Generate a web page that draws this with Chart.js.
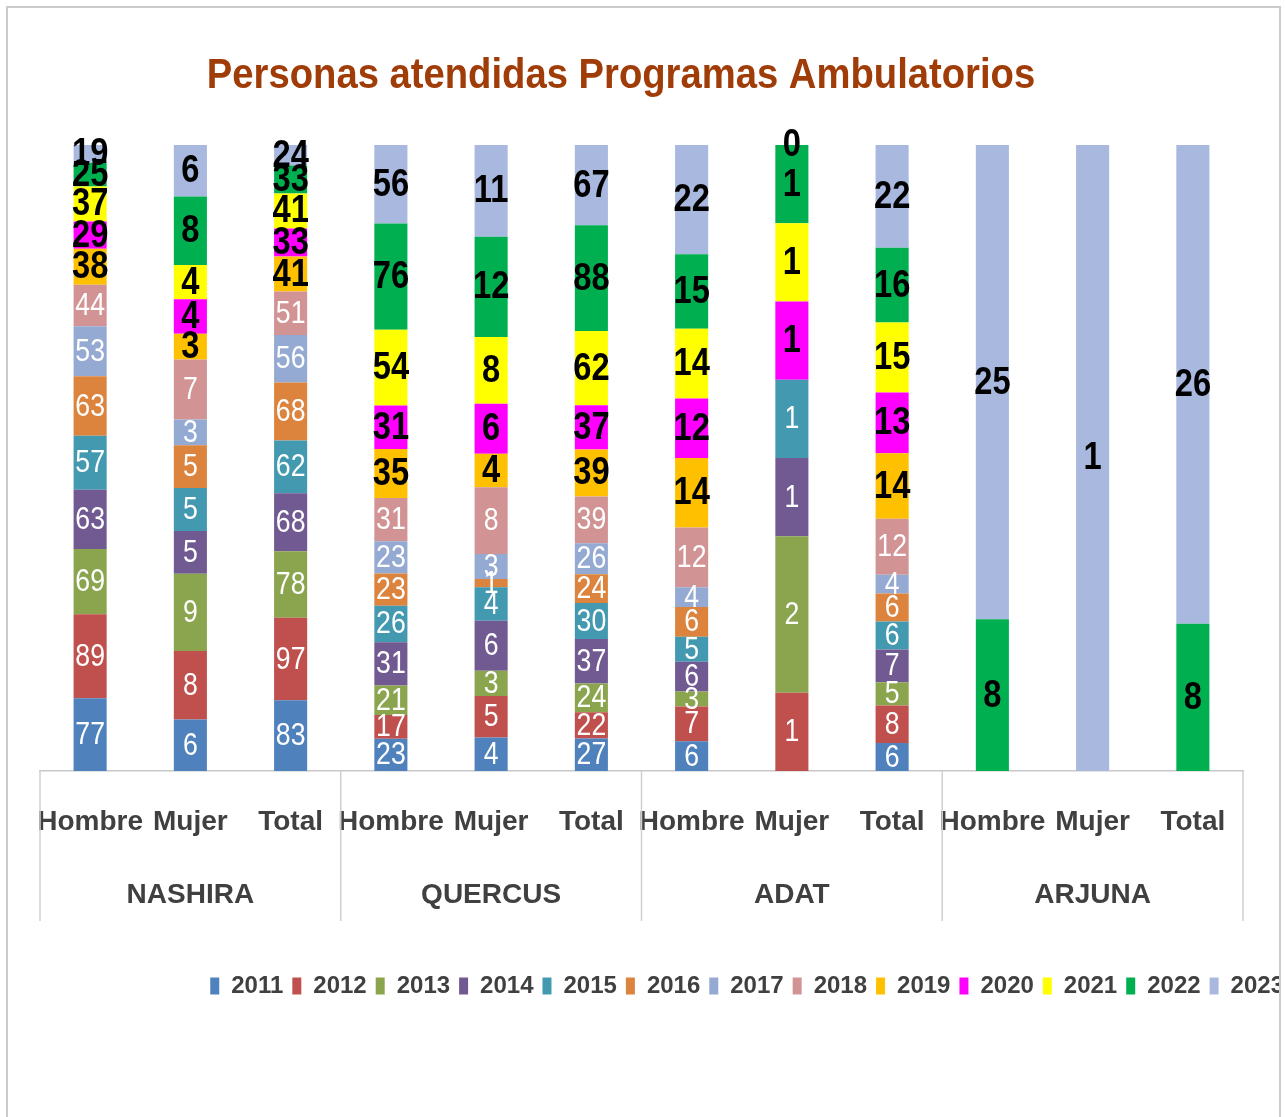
<!DOCTYPE html>
<html lang="es">
<head>
    <meta charset="UTF-8">
    <title>Personas atendidas Programas Ambulatorios</title>
    <script src="https://cdn.jsdelivr.net/npm/chart.js@4.4.1/dist/chart.umd.min.js"></script>
    <style>
        html, body { margin: 0; padding: 0; background: #fff; overflow: hidden; }
        #frame {
            position: absolute; left: 6px; top: 6px;
            width: 1271px; height: 1200px;
            border: 2px solid #cbcbcb; overflow: hidden; background: #fff;
        }
        #chart { position: absolute; left: -8px; top: -8px; }
    </style>
</head>
<body>
    <div id="frame">
        <canvas id="chart" width="1320" height="1117" style="width:1320px;height:1117px;"></canvas>
    </div>

    <script>
        // data
        const title = 'Personas atendidas Programas Ambulatorios';
        const groups = ['NASHIRA', 'QUERCUS', 'ADAT', 'ARJUNA'];
        const subs = ['Hombre', 'Mujer', 'Total'];
        const years = ['2011', '2012', '2013', '2014', '2015', '2016', '2017', '2018', '2019', '2020', '2021', '2022', '2023'];

        // one array per year, bars: NASHIRA H/M/T, QUERCUS H/M/T, ADAT H/M/T, ARJUNA H/M/T
        const v2011 = [77, 6, 83, 23, 4, 27, 6, null, 6, null, null, null];
        const v2012 = [89, 8, 97, 17, 5, 22, 7, 1, 8, null, null, null];
        const v2013 = [69, 9, 78, 21, 3, 24, 3, 2, 5, null, null, null];
        const v2014 = [63, 5, 68, 31, 6, 37, 6, 1, 7, null, null, null];
        const v2015 = [57, 5, 62, 26, 4, 30, 5, 1, 6, null, null, null];
        const v2016 = [63, 5, 68, 23, 1, 24, 6, null, 6, null, null, null];
        const v2017 = [53, 3, 56, 23, 3, 26, 4, null, 4, null, null, null];
        const v2018 = [44, 7, 51, 31, 8, 39, 12, null, 12, null, null, null];
        const v2019 = [38, 3, 41, 35, 4, 39, 14, null, 14, null, null, null];
        const v2020 = [29, 4, 33, 31, 6, 37, 12, 1, 13, null, null, null];
        const v2021 = [37, 4, 41, 54, 8, 62, 14, 1, 15, null, null, null];
        const v2022 = [25, 8, 33, 76, 12, 88, 15, 1, 16, 8, null, 8];
        const v2023 = [19, 6, 24, 56, 11, 67, 22, 0, 22, 25, 1, 26];

        const values = [v2011, v2012, v2013, v2014, v2015, v2016, v2017, v2018, v2019, v2020, v2021, v2022, v2023];
        const colors = ['#4f81bd', '#c0504d', '#8ba54f', '#715a91', '#4399b0', '#dc843e', '#95aad3',
                        '#d29394', '#ffc000', '#ff00ff', '#ffff00', '#00b050', '#a8b8de'];

        // two-line tick labels: sub category, then group name under the middle bar
        const labels = [];
        groups.forEach(g => subs.forEach((s, j) => labels.push([s, j === 1 ? g : ''])));

        // 100% stacked: every bar is turned into shares of its own total
        const totals = labels.map((_, i) => values.reduce((sum, arr) => sum + (arr[i] || 0), 0));

        const datasets = years.map((y, d) => ({
            label: y,
            data: values[d].map((v, i) => v === null ? null : v / totals[i] * 100),
            backgroundColor: colors[d],
            borderWidth: 0,
            barPercentage: 0.33,
            categoryPercentage: 1
        }));

        const valueLabels = {
            id: 'valueLabels',
            afterDatasetsDraw(chart) {
                const ctx = chart.ctx;
                ctx.save();
                ctx.textAlign = 'center';
                ctx.textBaseline = 'middle';
                chart.data.datasets.forEach((ds, d) => {
                    const meta = chart.getDatasetMeta(d);
                    const dark = d >= 8;
                    ctx.fillStyle = dark ? '#000' : '#fff';
                    ctx.font = dark ? 'bold 38px "Liberation Sans", Arial, sans-serif'
                                    : '31px "Liberation Sans", Arial, sans-serif';
                    meta.data.forEach((bar, i) => {
                        const v = values[d][i];
                        if (v === null) return;
                        ctx.save();
                        ctx.translate(bar.x, (bar.y + bar.base) / 2);
                        ctx.scale(0.86, 1);
                        ctx.fillText(String(v), 0, 1);
                        ctx.restore();
                    });
                });
                ctx.restore();
            }
        };

        const extras = {
            id: 'extras',
            afterDraw(chart) {
                const ctx = chart.ctx;
                const xs = chart.scales.x;
                const half = (xs.getPixelForValue(1) - xs.getPixelForValue(0)) / 2;
                const bottom = chart.chartArea.bottom;

                // group separators under the axis
                ctx.save();
                ctx.strokeStyle = '#d0d0d0';
                ctx.lineWidth = 1.5;
                for (let k = 0; k <= groups.length; k++) {
                    const x = k < groups.length ? xs.getPixelForValue(k * 3) - half
                                                : xs.getPixelForValue(labels.length - 1) + half;
                    ctx.beginPath();
                    ctx.moveTo(x, bottom);
                    ctx.lineTo(x, bottom + 150);
                    ctx.stroke();
                }
                ctx.restore();

                // title, a little narrower like the original
                ctx.save();
                ctx.fillStyle = '#a03c08';
                ctx.font = 'bold 42px "Liberation Sans", Arial, sans-serif';
                ctx.textAlign = 'center';
                ctx.textBaseline = 'middle';
                ctx.translate(621, 76);
                ctx.scale(0.91, 1);
                ctx.fillText(title, 0, 0);
                ctx.restore();
            }
        };

        new Chart(document.getElementById('chart'), {
            type: 'bar',
            data: { labels: labels, datasets: datasets },
            options: {
                responsive: false,
                animation: false,
                layout: { padding: { top: 145, left: 40, right: 27, bottom: 109 } },
                plugins: {
                    title: { display: false },
                    tooltip: { enabled: false },
                    legend: {
                        position: 'bottom',
                        align: 'end',
                        labels: {
                            boxWidth: 9,
                            boxHeight: 17,
                            padding: 9,
                            color: '#404040',
                            font: { family: '"Liberation Sans", Arial, sans-serif', size: 24, weight: 'bold' }
                        }
                    }
                },
                scales: {
                    x: {
                        stacked: true,
                        grid: { display: false, drawTicks: false },
                        border: { display: true, color: '#c8c8c8', width: 1.5 },
                        ticks: {
                            autoSkip: false,
                            maxRotation: 0,
                            minRotation: 0,
                            padding: 15,
                            color: '#404040',
                            font: { family: '"Liberation Sans", Arial, sans-serif', size: 28, weight: 'bold', lineHeight: '73px' }
                        },
                        afterFit(scale) { scale.height = 194; }
                    },
                    y: {
                        stacked: true,
                        display: false,
                        min: 0,
                        max: 100
                    },
                    y2: {
                        position: 'right',
                        min: 0,
                        max: 1,
                        grid: { display: false },
                        border: { display: false },
                        ticks: { display: false },
                        afterFit(scale) { scale.width = 50; }
                    }
                }
            },
            plugins: [valueLabels, extras]
        });
    </script>
</body>
</html>
